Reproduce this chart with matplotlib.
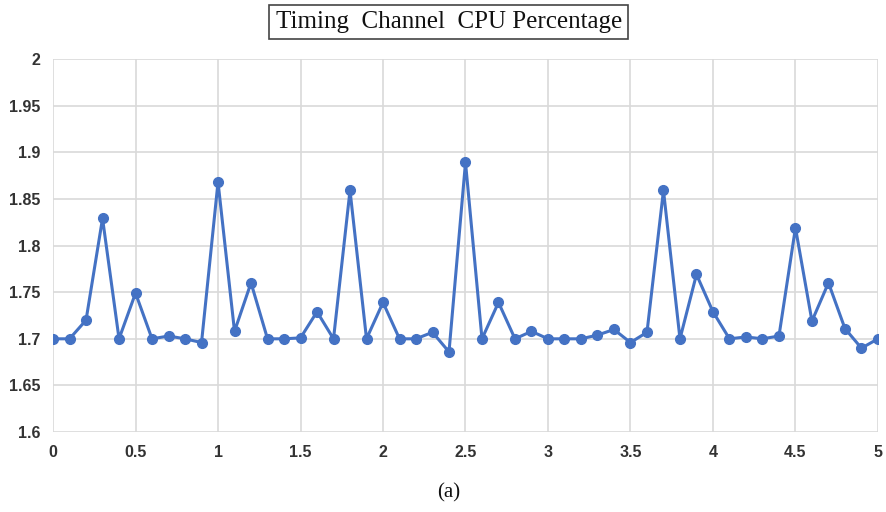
import matplotlib
matplotlib.use("Agg")
import matplotlib.pyplot as plt
import numpy as np

# time axis (0 .. 5, step 0.1) and CPU percentage
x = np.round(np.arange(0, 5.01, 0.1), 1)
cpu = [1.70, 1.70, 1.72, 1.829, 1.70, 1.749, 1.70, 1.703, 1.70, 1.696,
       1.868, 1.708, 1.76, 1.70, 1.70, 1.701, 1.729, 1.70, 1.859, 1.70,
       1.739, 1.70, 1.70, 1.707, 1.686, 1.889, 1.70, 1.739, 1.70, 1.708,
       1.70, 1.70, 1.70, 1.704, 1.71, 1.696, 1.707, 1.859, 1.70, 1.769,
       1.729, 1.70, 1.702, 1.70, 1.703, 1.819, 1.719, 1.76, 1.711, 1.69,
       1.70]
xticks = [0, 0.5, 1, 1.5, 2, 2.5, 3, 3.5, 4, 4.5, 5]
xlabels = ["0", "0.5", "1", "1.5", "2", "2.5", "3", "3.5", "4", "4.5", "5"]
yticks = [1.6, 1.65, 1.7, 1.75, 1.8, 1.85, 1.9, 1.95, 2]
ylabels = ["1.6", "1.65", "1.7", "1.75", "1.8", "1.85", "1.9", "1.95", "2"]

fig = plt.figure(figsize=(8.87, 5.12), dpi=100)
ax = fig.add_axes([0.0598, 0.156, 0.930, 0.729])

ax.plot(x, cpu, color="#4472C4", lw=2.2, marker="o", ms=7, zorder=3)

ax.set_xlim(0, 5)
ax.set_ylim(1.6, 2)
ax.set_xticks(xticks)
ax.set_xticklabels(xlabels)
ax.set_yticks(yticks)
ax.set_yticklabels(ylabels)
ax.grid(True, color="#d9d9d9", lw=1.2)
ax.set_axisbelow(True)
for s in ax.spines.values():
    s.set_visible(False)
ax.tick_params(length=0, labelsize=11.5, colors="#333333", pad=9)
for lab in ax.get_xticklabels() + ax.get_yticklabels():
    lab.set_fontweight("bold")
    lab.set_family("Liberation Sans")

fig.text(0.506, 0.957, "Timing  Channel  CPU Percentage", ha="center", va="center",
         family="Liberation Serif", fontsize=18, color="#111111",
         bbox=dict(boxstyle="square,pad=0.25", fc="white", ec="#444444", lw=1.2))
fig.text(0.506, 0.037, "(a)", ha="center", va="center",
         family="Liberation Serif", fontsize=15, color="#111111")

fig.savefig("out.png", dpi=100)
